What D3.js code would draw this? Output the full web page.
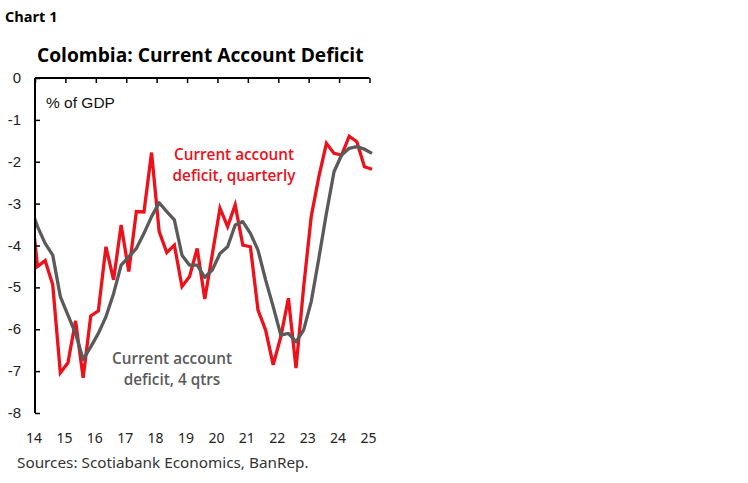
<!DOCTYPE html>
<html><head><meta charset="utf-8">
<script src="https://cdn.jsdelivr.net/npm/d3@7"></script>
<style>body{margin:0;background:#fff}svg{display:block}</style>
</head><body>
<svg id="c" width="748" height="483"></svg>
<script>
// Periods (quarterly). 2013Q4 lies just before the axis start and is clipped.
const periods = ["2013Q4",
 "2014Q1","2014Q2","2014Q3","2014Q4","2015Q1","2015Q2","2015Q3","2015Q4",
 "2016Q1","2016Q2","2016Q3","2016Q4","2017Q1","2017Q2","2017Q3","2017Q4",
 "2018Q1","2018Q2","2018Q3","2018Q4","2019Q1","2019Q2","2019Q3","2019Q4",
 "2020Q1","2020Q2","2020Q3","2020Q4","2021Q1","2021Q2","2021Q3","2021Q4",
 "2022Q1","2022Q2","2022Q3","2022Q4","2023Q1","2023Q2","2023Q3","2023Q4",
 "2024Q1","2024Q2","2024Q3","2024Q4","2025Q1"];
const quarterly = [-2.8,
 -4.5,-4.36,-4.94,-7.04,-6.8,-5.8,-7.16,-5.68,
 -5.56,-4.03,-4.82,-3.51,-4.62,-3.19,-3.2,-1.78,
 -3.67,-4.17,-3.99,-4.98,-4.74,-4.07,-5.28,-4.2,
 -3.11,-3.55,-3.03,-3.99,-4.03,-5.54,-6.02,-6.85,
 -6.18,-5.26,-6.93,-5.0,-3.31,-2.36,-1.56,-1.8,
 -1.84,-1.39,-1.52,-2.12,-2.18];
const fourQtrs = [-3.05,
 -3.55,-3.95,-4.23,-5.22,-5.66,-6.1,-6.72,-6.42,
 -6.1,-5.7,-5.15,-4.47,-4.27,-4.07,-3.71,-3.31,
 -2.98,-3.19,-3.39,-4.23,-4.47,-4.47,-4.76,-4.58,
 -4.19,-4.03,-3.51,-3.43,-3.71,-4.11,-4.82,-5.46,
 -6.14,-6.1,-6.3,-6.02,-5.34,-4.31,-3.23,-2.24,
 -1.84,-1.68,-1.64,-1.70,-1.80];
const yearTicks = [2014,2015,2016,2017,2018,2019,2020,2021,2022,2023,2024,2025];
const yearLabels = ["14","15","16","17","18","19","20","21","22","23","24","25"];
const yTicks = [0,-1,-2,-3,-4,-5,-6,-7,-8];

const RED = "#EC111A", GREY = "#5a5a5a";
const svg = d3.select("#c");
const x = d3.scaleLinear().domain([2014, 2025]).range([35, 369.5]);
const y = d3.scaleLinear().domain([-8, 0]).range([413, 78]);
// each quarter plotted at the middle month of the quarter
const t = p => +p.slice(0,4) + (+p.slice(5) - 1) / 4 + 1/12;

svg.append("text").attr("x",5).attr("y",22).text("Chart 1")
  .attr("font-family","'Open Sans', sans-serif").attr("font-weight",700).attr("font-size",14.5).attr("fill","#000");
svg.append("text").attr("x",37).attr("y",62).text("Colombia: Current Account Deficit")
  .attr("font-family","'Open Sans', sans-serif").attr("font-weight",700).attr("font-size",19.2).attr("fill","#000");

svg.append("defs").append("clipPath").attr("id","pc").append("rect")
  .attr("x",x.range()[0]).attr("y",70).attr("width",345).attr("height",360);

// lines
const line = arr => d3.line().x((d,i)=>x(t(periods[i]))).y(d=>y(d))(arr);
const g = svg.append("g").attr("clip-path","url(#pc)");
g.append("path").attr("d", line(quarterly)).attr("fill","none").attr("stroke",RED)
  .attr("stroke-width",3.3).attr("stroke-linejoin","miter");
g.append("path").attr("d", line(fourQtrs)).attr("fill","none").attr("stroke",GREY)
  .attr("stroke-width",3.3).attr("stroke-linejoin","round");

// y axis
const yAxis = svg.append("g").attr("transform","translate(35,0)")
  .call(d3.axisRight(y).tickValues(yTicks).tickSize(5).tickFormat(""));
yAxis.select(".domain").attr("stroke","#000").attr("stroke-width",2).attr("d","M0,78V413");
yAxis.selectAll(".tick line").attr("stroke","#000").attr("stroke-width",1.5);
svg.append("g").selectAll("text").data(yTicks).join("text")
  .attr("x",21).attr("y",d=>y(d)+5).attr("text-anchor","end").text(d=>d)
  .attr("font-family","'Liberation Sans', Arial, sans-serif").attr("font-size",15).attr("fill","#222");

// top axis with year ticks
const xAxis = svg.append("g").attr("transform","translate(0,78)")
  .call(d3.axisBottom(x).tickValues(yearTicks).tickSize(5).tickFormat(""));
xAxis.select(".domain").attr("stroke","#000").attr("stroke-width",2).attr("d","M35,0H369.5");
xAxis.selectAll(".tick line").attr("stroke","#000").attr("stroke-width",1.5);
svg.append("g").selectAll("text").data(yearTicks).join("text")
  .attr("x",d=>x(d)-1).attr("y",443).attr("text-anchor","middle").text((d,i)=>yearLabels[i])
  .attr("font-family","'Noto Sans', sans-serif").attr("font-size",14).attr("fill","#222");

svg.append("text").attr("x",46).attr("y",108).text("% of GDP")
  .attr("font-family","'Liberation Sans', Arial, sans-serif").attr("font-size",15.5).attr("fill","#111");

const lab = (lines, cx, y0, col) => svg.append("text")
  .attr("font-family","'Open Sans', sans-serif").attr("font-weight",600).attr("font-size",15.3)
  .attr("fill",col).attr("text-anchor","middle")
  .selectAll("tspan").data(lines).join("tspan").attr("x",cx).attr("y",(d,i)=>y0+i*21).text(d=>d);
lab(["Current account","deficit, quarterly"], 234, 160, RED);
lab(["Current account","deficit, 4 qtrs"], 172, 364, GREY);

svg.append("text").attr("x",17).attr("y",468).text("Sources: Scotiabank Economics, BanRep.")
  .attr("font-family","'Noto Sans', sans-serif").attr("font-size",15.3).attr("fill","#333");
</script>
</body></html>
